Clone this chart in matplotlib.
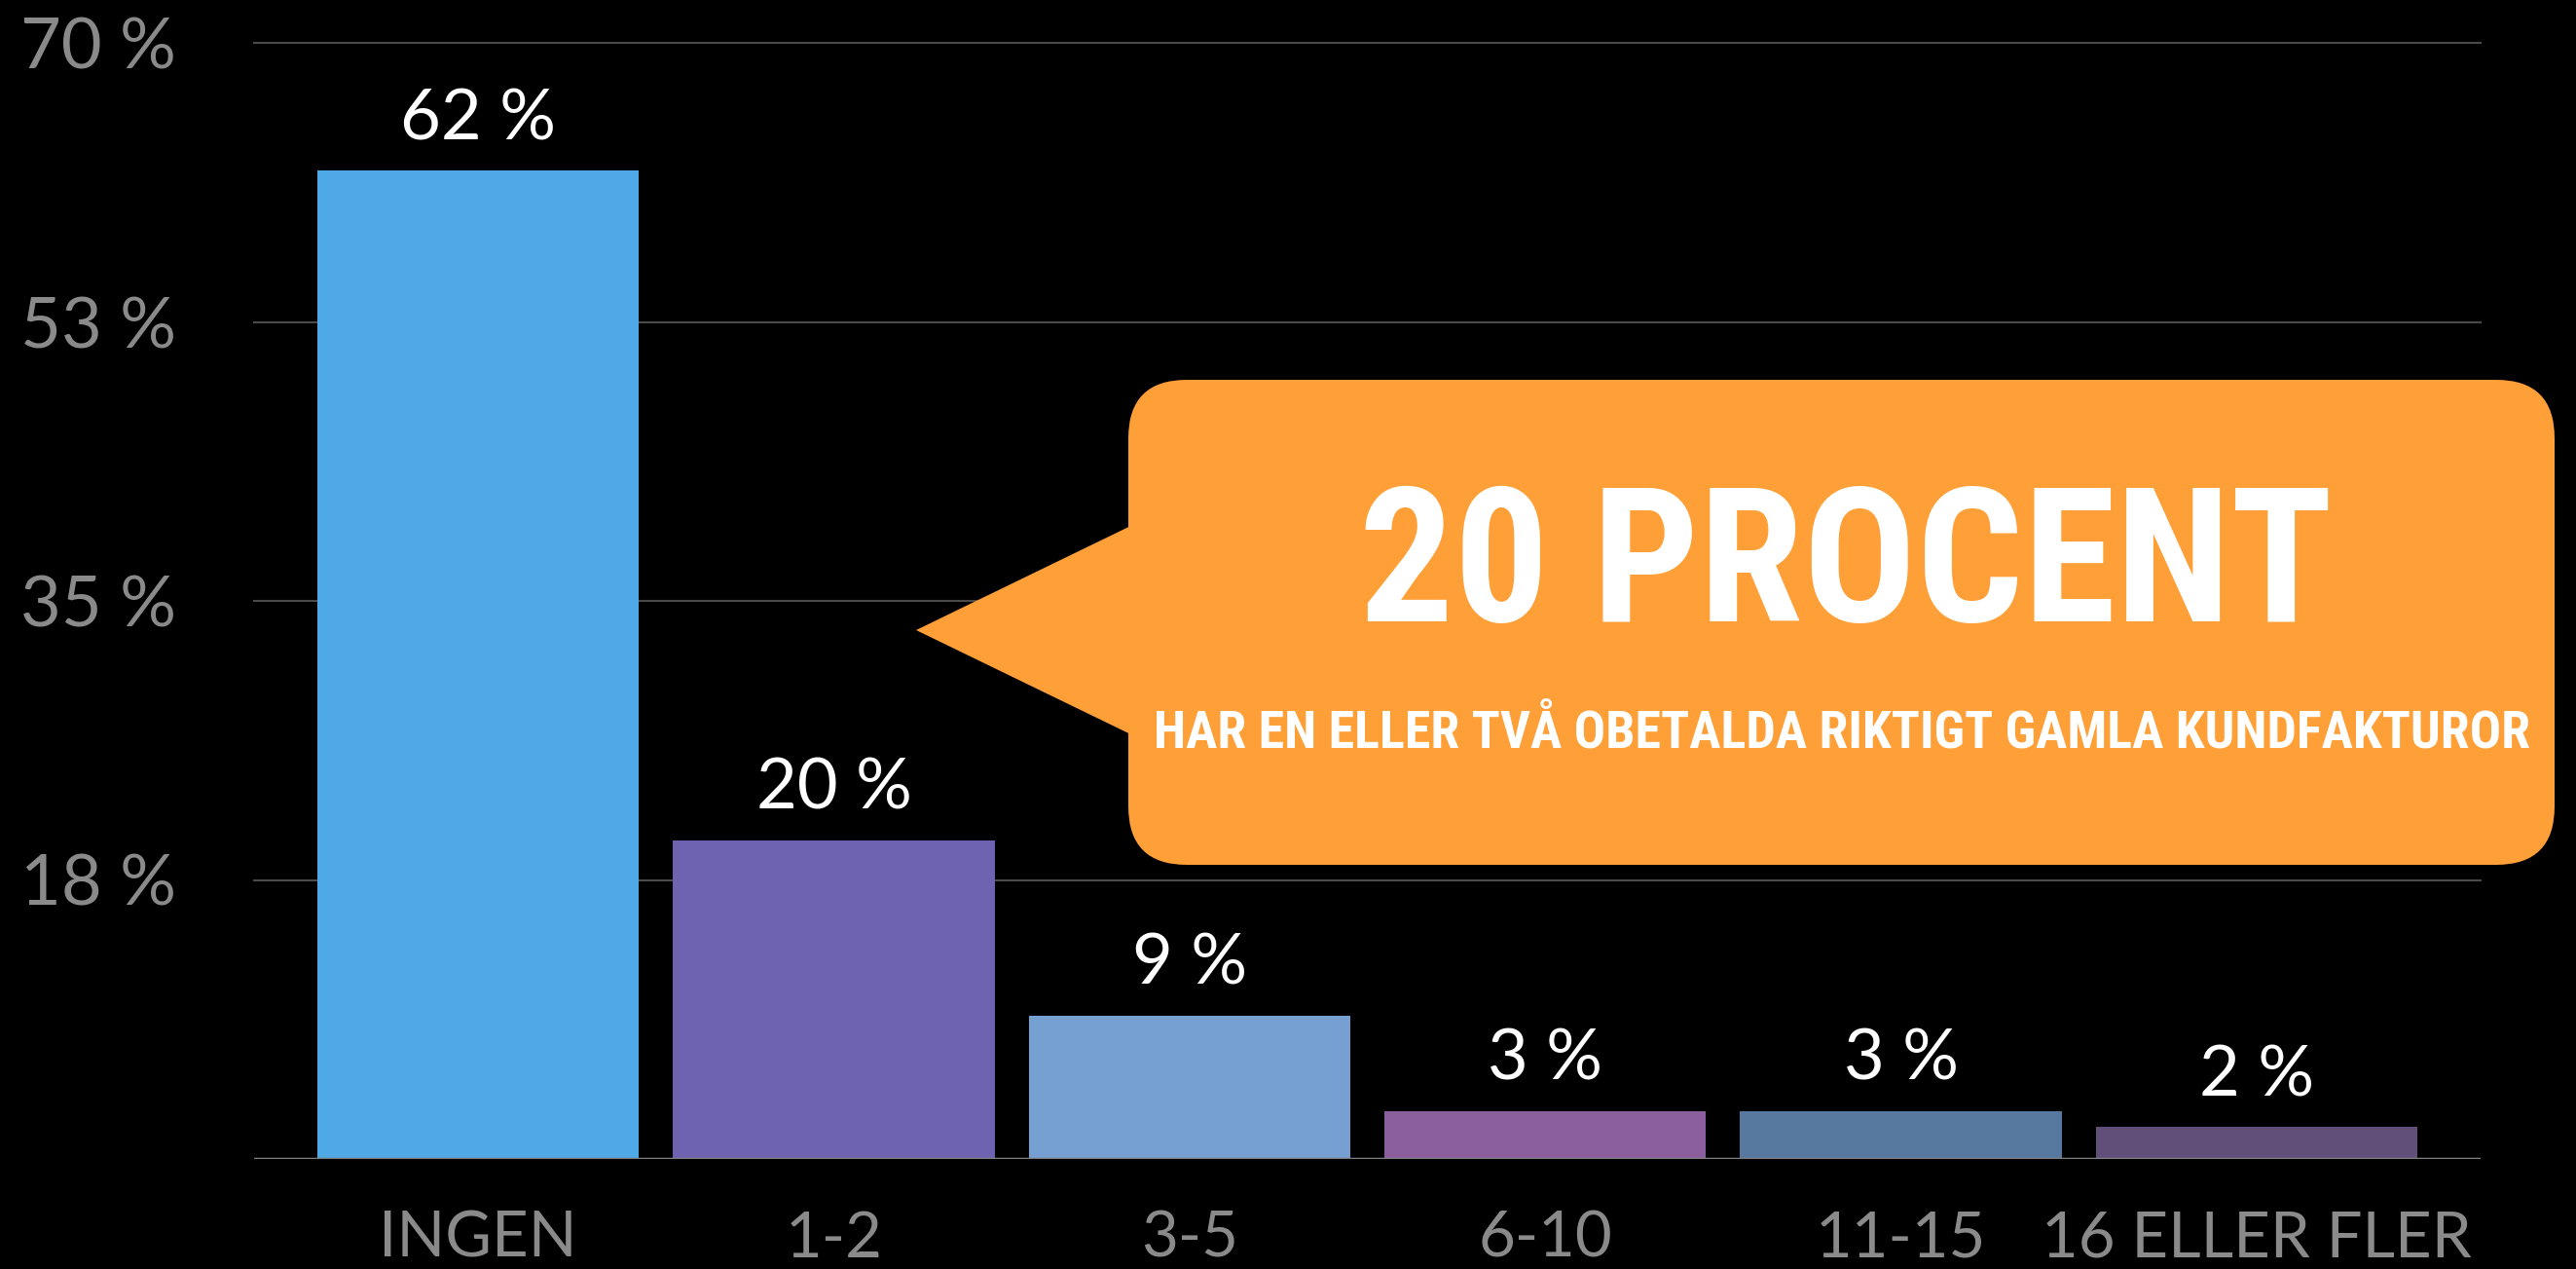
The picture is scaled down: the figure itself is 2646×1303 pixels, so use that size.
import matplotlib
matplotlib.use('Agg')
import matplotlib.pyplot as plt
from matplotlib import font_manager as fm
from matplotlib.patches import FancyBboxPatch, Polygon

categories = ['INGEN', '1-2', '3-5', '6-10', '11-15', '16 ELLER FLER']
values = [62, 20, 9, 3, 3, 2]
bar_colors = ['#4EA9E6', '#6E63B0', '#77A0D2', '#8B5E9E', '#57799F', '#614F7A']
yticks = [17.5, 35, 52.5, 70]
ytick_labels = ['18 %', '35 %', '53 %', '70 %']
callout_title = '20 PROCENT'
callout_sub = 'HAR EN ELLER TVÅ OBETALDA RIKTIGT GAMLA KUNDFAKTUROR'


def first_font(names):
    for n in names:
        try:
            fm.findfont(fm.FontProperties(family=n), fallback_to_default=False)
            return n
        except ValueError:
            pass
    return 'DejaVu Sans'


light = first_font(['Lato', 'Open Sans', 'Roboto'])
narrow = first_font(['Roboto Condensed', 'Liberation Sans Narrow', 'DejaVu Sans'])

W, H = 2646, 1303
fig = plt.figure(figsize=(W / 100, H / 100), dpi=100, facecolor='black')
ax = fig.add_axes([261 / W, 1 - 1190 / H, (2548 - 261) / W, (1190 - 44) / H])
ax.set_facecolor('black')

x = list(range(len(categories)))
ax.bar(x, values, width=0.905, color=bar_colors, zorder=2)
ax.set_xlim(-0.63, 5.63)
ax.set_ylim(0, 70)
for t in yticks:
    ax.axhline(t, color='#4a4a4a', lw=1.5, zorder=1, clip_on=False)
ax.axhline(0, color='#808080', lw=2.5, zorder=3)
for s in ax.spines.values():
    s.set_visible(False)

ax.set_yticks(yticks, ytick_labels, ha='left', fontfamily=light, fontweight='normal')
ax.tick_params(axis='y', length=0, pad=173, labelsize=52, labelcolor='#8a8a8a')
ax.set_xticks(x, categories, fontfamily=light, fontweight='normal')
ax.tick_params(axis='x', length=0, pad=38, labelsize=47, labelcolor='#8a8a8a')

for i, v in enumerate(values):
    ax.annotate(f'{v} %', (i, v), xytext=(0, 23), textcoords='offset points',
                ha='center', va='baseline', color='white', fontsize=52,
                fontfamily=light, fontweight='normal')

# callout bubble (inches)
orange = '#FF9F37'
tr = fig.dpi_scale_trans
box = FancyBboxPatch((11.59, 4.15), 14.65, 4.98, boxstyle='round,pad=0,rounding_size=0.6',
                     transform=tr, fc=orange, ec='none')
fig.add_artist(box)
tip = Polygon([(11.8, 7.72), (9.41, 6.56), (11.8, 5.40)], closed=True,
              transform=tr, fc=orange, ec='none')
fig.add_artist(tip)

t1 = fig.text(18.96, 6.65, callout_title, transform=tr, ha='center', va='baseline',
              color='white', fontsize=150, fontweight='bold', fontfamily=narrow,
              fontstretch='condensed')
t2 = fig.text(18.92, 5.36, callout_sub, transform=tr, ha='center', va='baseline',
              color='white', fontsize=40, fontweight='bold', fontfamily=narrow,
              fontstretch='condensed')

fig.canvas.draw()
r = fig.canvas.get_renderer()
for t, target in [(t1, 1000), (t2, 1411)]:
    w = t.get_window_extent(r).width
    t.set_fontsize(t.get_fontsize() * target / w)

fig.savefig('out.png', dpi=100, facecolor='black')
